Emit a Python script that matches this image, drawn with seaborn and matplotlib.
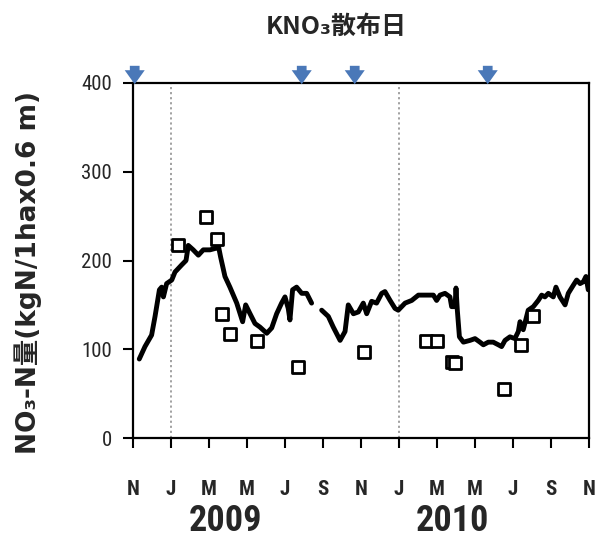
import numpy as np
import pandas as pd
import matplotlib
matplotlib.use("Agg")
import matplotlib.pyplot as plt
import seaborn as sns
from matplotlib import font_manager as fm
from matplotlib.transforms import blended_transform_factory

# x positions are months elapsed since 1 Nov 2008
# simulated NO3-N stock (line), two segments split by a data gap in Sep 2009
sim_month_a = [0.33, 0.63, 0.98, 1.16, 1.39, 1.51, 1.60, 1.77, 2.04, 2.21, 2.56, 2.79,
               2.91, 3.17, 3.44, 3.70, 4.05, 4.40, 4.49, 4.61, 4.84, 5.10, 5.46, 5.77,
               5.93, 6.16, 6.42, 6.68, 7.04, 7.30, 7.56, 7.82, 8.00, 8.17, 8.26, 8.40,
               8.61, 8.88, 9.14, 9.40]
sim_value_a = [89, 103, 116, 137, 167, 170, 159, 174, 178, 187, 195, 200,
               217, 212, 206, 212, 212, 214, 217, 204, 182, 170, 152, 131,
               150, 140, 129, 125, 118, 124, 140, 152, 159, 146, 133, 167,
               170, 163, 163, 152]
sim_month_b = [9.93, 10.28, 10.54, 10.90, 11.16, 11.33, 11.60, 11.86, 12.12, 12.30,
               12.56, 12.82, 13.09, 13.26, 13.53, 13.79, 13.96, 14.32, 14.67, 15.02,
               15.46, 15.81, 15.98, 16.16, 16.42, 16.68, 16.77, 16.95, 17.00, 17.07,
               17.18, 17.39, 17.74, 18.00, 18.26, 18.44, 18.70, 18.96, 19.23, 19.40,
               19.58, 19.84, 20.10, 20.28, 20.37, 20.54, 20.80, 21.07, 21.33, 21.51,
               21.68, 21.86, 22.12, 22.26, 22.47, 22.74, 22.91, 23.17, 23.35, 23.53,
               23.70, 23.84, 23.96]
sim_value_b = [144, 137, 125, 110, 120, 150, 140, 142, 152, 140,
               154, 152, 163, 165, 155, 146, 144, 152, 155, 161,
               161, 161, 155, 161, 163, 159, 148, 148, 169, 144,
               114, 108, 110, 112, 108, 105, 108, 108, 105, 103,
               110, 114, 112, 120, 131, 122, 144, 148, 155, 161,
               159, 163, 159, 170, 159, 150, 163, 172, 178, 174,
               176, 182, 167]

# measured NO3-N stock (open squares)
obs_month = [2.39, 3.84, 4.44, 4.67, 5.10, 6.51, 8.70, 12.16, 15.42, 15.98,
             16.77, 16.95, 19.51, 20.42, 21.04]
obs_value = [217, 249, 224, 140, 117, 109, 80, 97, 109, 109,
             86, 84, 55, 105, 138]

# KNO3 application dates
apply_month = [0.09, 8.88, 11.67, 18.67]

tick_months = list(range(0, 25, 2))
tick_labels = ["N", "J", "M", "M", "J", "S", "N", "J", "M", "M", "J", "S", "N"]
year_labels = ["2009", "2010"]
year_month = [4.85, 16.8]
new_year_month = [2, 14]


def first_font(names):
    avail = {f.name for f in fm.fontManager.ttflist}
    for n in names:
        if n in avail:
            return n
    return "DejaVu Sans"


sns.set_style("white")
NARROW = first_font(["Liberation Sans Narrow", "Roboto Condensed",
                     "Open Sans Condensed", "Liberation Sans"])
plt.rcParams["font.family"] = [NARROW, "DejaVu Sans"]

sim = pd.concat([
    pd.DataFrame({"month": sim_month_a, "value": sim_value_a, "seg": 0}),
    pd.DataFrame({"month": sim_month_b, "value": sim_value_b, "seg": 1}),
])
obs = pd.DataFrame({"month": obs_month, "value": obs_value})

fig = plt.figure(figsize=(5.95, 5.4), dpi=100)
ax = fig.add_axes([133 / 595, 102 / 540, 456 / 595, 355 / 540])

for m in new_year_month:
    ax.axvline(m, color="#9a9a9a", lw=1.3, ls=(0, (1.2, 1.6)), zorder=1)

sns.lineplot(data=sim, x="month", y="value", units="seg", estimator=None,
             color="black", lw=3.5, ax=ax, zorder=3)
sns.scatterplot(data=obs, x="month", y="value", marker="s", s=85,
                facecolor="white", edgecolor="black", linewidth=2.0,
                ax=ax, zorder=4)

ax.set_xlim(0, 24)
ax.set_ylim(0, 400)
ax.set_yticks([0, 100, 200, 300, 400])
ax.set_xticks(tick_months)
ax.set_xticklabels(tick_labels, fontsize=15, fontweight="bold")
ax.tick_params(axis="x", direction="out", length=7, width=1.5, pad=23,
               bottom=True, color="black")
ax.tick_params(axis="y", direction="out", length=7, width=1.5, pad=8,
               left=True, labelsize=15, color="black")
for s in ax.spines.values():
    s.set_color("black")
    s.set_linewidth(1.6)

ax.set_xlabel("")
ax.set_ylabel("NO₃-N量(kgN/1hax0.6 m)", fontsize=19, fontweight="bold",
              family=["DejaVu Sans", "Noto Sans CJK JP"])
ax.yaxis.set_label_coords(-0.199, 0.465)

trans = blended_transform_factory(ax.transData, ax.transAxes)
for lbl, m in zip(year_labels, year_month):
    ax.text(m, -0.235, lbl, transform=trans, ha="center", va="center",
            fontsize=26, fontweight="bold")

for m in apply_month:
    ax.annotate("", xy=(m, 395.5), xytext=(m, 422.5), annotation_clip=False,
                arrowprops=dict(arrowstyle="simple,head_length=0.72,head_width=1.03,tail_width=0.5",
                                mutation_scale=14, color="#4a78b8", lw=0),
                zorder=6)

fig.text(336 / 595, 1 - 27 / 540, "KNO₃散布日", ha="center", va="center",
         fontsize=18, fontweight="bold", family=["Noto Sans CJK JP", "DejaVu Sans"])

fig.savefig("out.png", dpi=100)
